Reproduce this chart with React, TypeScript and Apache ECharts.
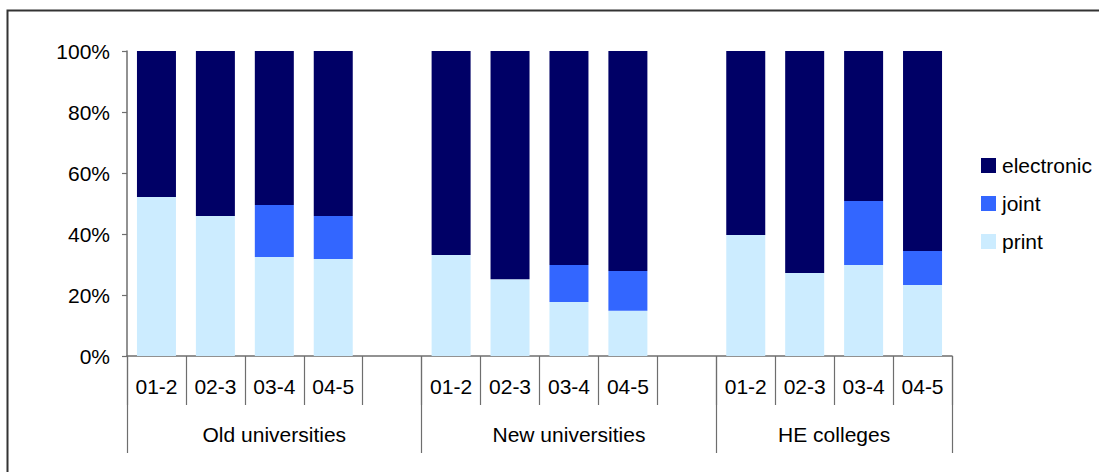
import React, { useEffect, useRef } from "react";
import * as echarts from "echarts";

const categories = ["01-2", "02-3", "03-4", "04-5", "", "01-2", "02-3", "03-4", "04-5", "", "01-2", "02-3", "03-4", "04-5"];
const groups = ["Old universities", "New universities", "HE colleges"];
const groupCenters = [2.5, 7.5, 12];
const groupBounds = [0, 5, 10, 14];

const printVals = [52.1, 45.9, 32.5, 31.8, null, 33.1, 25.2, 17.7, 14.8, null, 39.7, 27.2, 29.8, 23.3];
const jointVals = [0, 0, 17.0, 14.1, null, 0, 0, 12.1, 13.1, null, 0, 0, 21.0, 11.1];
const electronicVals = [47.9, 54.1, 50.5, 54.1, null, 66.9, 74.8, 70.2, 72.1, null, 60.3, 72.8, 49.2, 65.6];

const yTicks = [0, 20, 40, 60, 80, 100];

const FONT = "'Liberation Sans', Arial, sans-serif";
const FS = 21;

export default function App() {
  const ref = useRef<HTMLDivElement>(null);
  useEffect(() => {
    if (!ref.current) return;
    const chart = echarts.init(ref.current, null, { renderer: "svg" });
    const axisColor = "#6e6e6e";
    chart.setOption({
      animation: false,
      backgroundColor: "#ffffff",
      textStyle: { fontFamily: FONT },
      graphic: [
        {
          type: "rect",
          shape: { x: 7.5, y: 10.5, width: 1100, height: 470 },
          style: { fill: "none", stroke: "#333333", lineWidth: 2 },
          silent: true,
        },
      ],
      legend: {
        orient: "vertical",
        left: 981,
        top: 155,
        padding: 0,
        itemWidth: 15,
        itemHeight: 15,
        itemGap: 17,
        icon: "rect",
        data: ["electronic", "joint", "print"],
        textStyle: { fontSize: FS, color: "#000", fontFamily: FONT, lineHeight: 21, padding: [0, 0, 0, 1] },
      },
      grid: { left: 127, right: 147, top: 51, bottom: 116, containLabel: false },
      xAxis: [
        {
          type: "category",
          data: categories,
          position: "bottom",
          axisLine: { show: true, lineStyle: { color: axisColor, width: 1.5 } },
          axisTick: { show: true, length: 49, interval: 0, lineStyle: { color: axisColor, width: 1.2 } },
          axisLabel: { interval: 0, margin: 20, fontSize: FS, color: "#000", fontFamily: FONT },
          splitLine: { show: false },
        },
        {
          type: "value",
          min: 0,
          max: 14,
          position: "bottom",
          axisLine: { show: false },
          axisTick: {
            show: true,
            length: 97,
            customValues: groupBounds,
            lineStyle: { color: axisColor, width: 1.2 },
          },
          axisLabel: {
            show: true,
            margin: 68,
            fontSize: FS,
            color: "#000",
            fontFamily: FONT,
            customValues: groupCenters,
            formatter: (v: number) => {
              const i = groupCenters.indexOf(v);
              return i >= 0 ? groups[i] : "";
            },
          },
          splitLine: { show: false },
        },
      ],
      yAxis: {
        type: "value",
        min: 0,
        max: 100,
        interval: 20,
        axisLine: { show: true, lineStyle: { color: axisColor, width: 1.5 } },
        axisTick: { show: true, length: 5, inside: false, lineStyle: { color: axisColor, width: 1.2 } },
        axisLabel: {
          margin: 17,
          fontSize: FS,
          color: "#000",
          fontFamily: FONT,
          customValues: yTicks,
          formatter: (v: number) => v + "%",
        },
        splitLine: { show: false },
      },
      series: [
        {
          name: "print",
          type: "bar",
          stack: "total",
          xAxisIndex: 0,
          barWidth: 39,
          data: printVals,
          itemStyle: { color: "#CCECFF" },
        },
        {
          name: "joint",
          type: "bar",
          stack: "total",
          xAxisIndex: 0,
          barWidth: 39,
          data: jointVals,
          itemStyle: { color: "#3366FF" },
        },
        {
          name: "electronic",
          type: "bar",
          stack: "total",
          xAxisIndex: 0,
          barWidth: 39,
          data: electronicVals,
          itemStyle: { color: "#000066" },
        },
      ],
    });
    return () => chart.dispose();
  }, []);
  return (
    <div
      ref={ref}
      style={{ position: "absolute", left: 0, top: 0, width: 1099, height: 472, background: "#fff" }}
    />
  );
}
